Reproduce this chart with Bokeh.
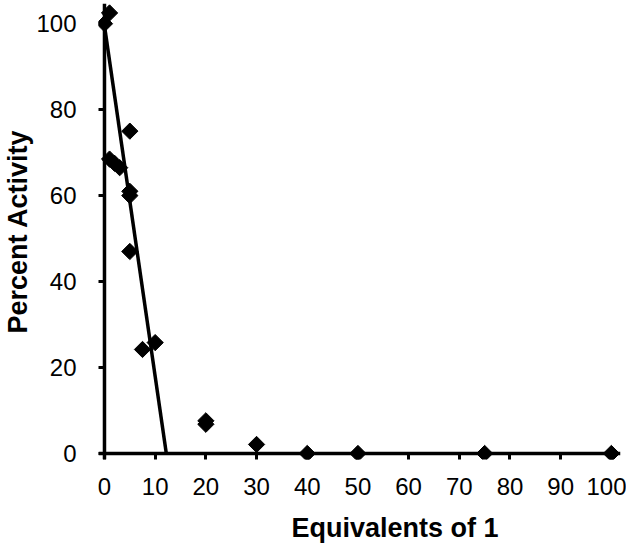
import math
from bokeh.plotting import figure
from bokeh.models import Range1d, FixedTicker, Title, Span
from bokeh.embed import file_html
from bokeh.resources import INLINE

# Data
equiv = [0, 1, 1, 2, 3, 5, 5, 5, 5, 7.5, 10, 20, 20, 30, 40, 50, 75, 100]
activity = [100, 102.5, 68.5, 67.5, 66.5, 75, 61, 60, 47, 24.2, 25.8, 6.8, 7.6, 2.1, 0, 0, 0, 0]

# Linear trend line endpoints (fit of the early points)
fit_x = [0, 12.2]
fit_y = [99.5, 0]

x_ticks = [0, 10, 20, 30, 40, 50, 60, 70, 80, 90, 100]
y_ticks = [0, 20, 40, 60, 80, 100]

FONT = "Liberation Sans"

p = figure(frame_width=522, frame_height=456, output_backend="svg", toolbar_location=None,
           x_range=Range1d(-1.18, 101.8), y_range=Range1d(-1.4, 104.7),
           min_border_left=97, min_border_right=6, min_border_top=3, min_border_bottom=60)
p.outline_line_color = None
p.grid.visible = False
p.background_fill_color = "white"

# axis lines through the origin
p.add_layout(Span(location=0, dimension="height", line_color="black", line_width=3.5))
p.add_layout(Span(location=0, dimension="width", line_color="black", line_width=3.5))

p.line(fit_x, fit_y, line_color="black", line_width=3.5)
p.scatter(equiv, activity, marker="square", angle=math.pi / 4, size=11.5,
          fill_color="black", line_color="black")

for ax in (p.xaxis[0], p.yaxis[0]):
    ax.axis_line_color = None
    ax.major_tick_line_width = 3
    ax.major_tick_line_color = "black"
    ax.major_tick_in = 6
    ax.major_tick_out = 0
    ax.minor_tick_line_color = None
    ax.major_label_text_font = FONT
    ax.major_label_text_font_size = "24px"
    ax.major_label_text_color = "black"

p.xaxis.ticker = FixedTicker(ticks=x_ticks)
p.yaxis.ticker = FixedTicker(ticks=y_ticks)
p.xaxis.major_label_standoff = 18
p.yaxis.major_label_standoff = 22

p.yaxis.axis_label = "Percent Activity"
p.yaxis.axis_label_text_font = FONT
p.yaxis.axis_label_text_font_size = "27px"
p.yaxis.axis_label_text_font_style = "bold"
p.yaxis.axis_label_text_color = "black"
p.yaxis.axis_label_standoff = 0

p.add_layout(Title(text="Equivalents of 1", align="left", offset=193,
                   text_font=FONT, text_font_size="27px", text_font_style="bold",
                   text_color="black", standoff=26), "below")

open("out.html", "w").write(file_html(p, INLINE))
